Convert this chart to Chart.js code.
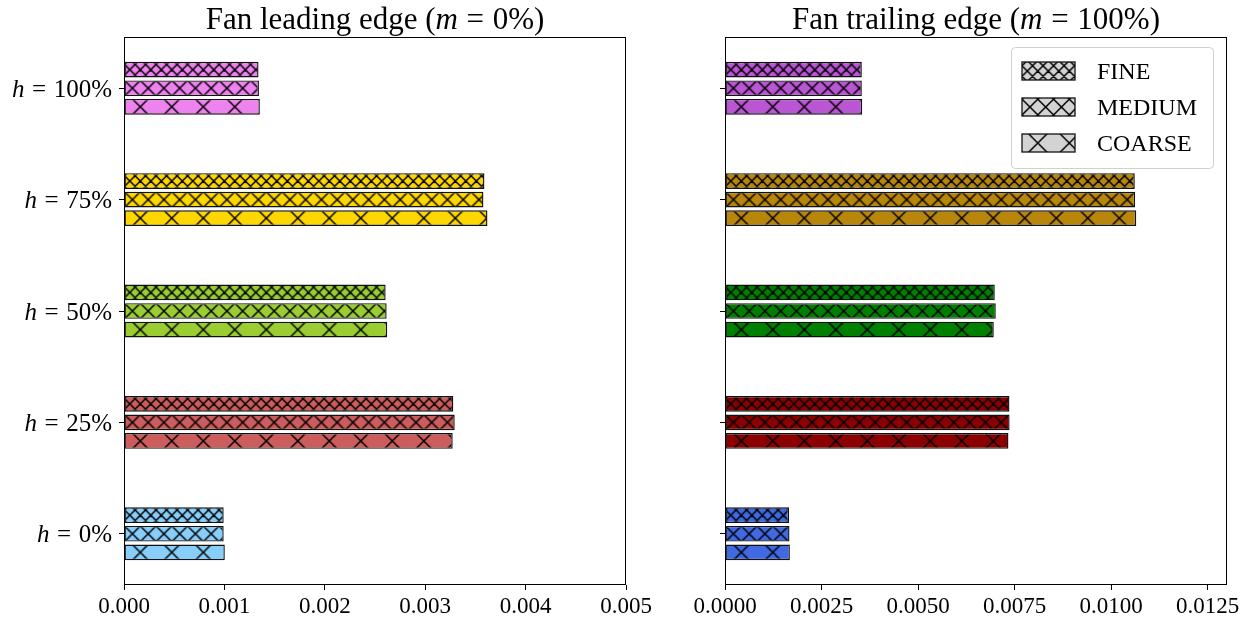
<!DOCTYPE html>
<html>
<head>
<meta charset="utf-8">
<script src="https://cdn.jsdelivr.net/npm/chart.js@4.4.1/dist/chart.umd.min.js"></script>
<style>
  html, body { margin: 0; padding: 0; background: #fff; }
  #wrap { position: relative; width: 1252px; height: 619px; overflow: hidden; }
  canvas { position: absolute; top: 0; }
  #lead { left: 0; }
  #trail { left: 680px; }
</style>
</head>
<body>
<div id="wrap">
  <canvas id="lead" width="680" height="619"></canvas>
  <canvas id="trail" width="572" height="619"></canvas>
</div>
<script>
// Span positions h, listed bottom to top
const spanHeights = [0, 25, 50, 75, 100];
const meshNames = ['FINE', 'MEDIUM', 'COARSE'];

// Fan leading edge (m = 0%)
const leadFine   = [0.000993, 0.003280, 0.002606, 0.003590, 0.001340];
const leadMedium = [0.000993, 0.003294, 0.002616, 0.003580, 0.001344];
const leadCoarse = [0.001004, 0.003274, 0.002622, 0.003620, 0.001353];

// Fan trailing edge (m = 100%)
const trailFine   = [0.001658, 0.007366, 0.006986, 0.010612, 0.003543];
const trailMedium = [0.001670, 0.007370, 0.007012, 0.010620, 0.003543];
const trailCoarse = [0.001680, 0.007340, 0.006960, 0.010650, 0.003553];

// Value-axis ticks
const leadTicks  = [0, 0.001, 0.002, 0.003, 0.004, 0.005];
const trailTicks = [0, 0.0025, 0.005, 0.0075, 0.01, 0.0125];

// Bar colours per span position
const leadColors  = ['#87CEFA', '#CD5C5C', '#9ACD32', '#FFD700', '#EE82EE'];
const trailColors = ['#4169E1', '#8B0000', '#008000', '#B8860B', '#BA55D3'];

// Cross-hatch periods for FINE / MEDIUM / COARSE (tile / repeats)
const HATCH_TILE = 63;
const hatchRepeats = [6, 4, 2];

const SERIF = '"Liberation Serif", "Times New Roman", serif';

function makeHatch(ctx, fill, repeats) {
  const T = HATCH_TILE;
  const c = document.createElement('canvas');
  c.width = T; c.height = T;
  const g = c.getContext('2d');
  g.fillStyle = fill;
  g.fillRect(0, 0, T, T);
  g.strokeStyle = '#000';
  g.lineWidth = 1.5;
  const q = T / repeats;
  g.beginPath();
  for (let k = -repeats - 1; k <= repeats + 1; k++) {
    g.moveTo(k * q, 0); g.lineTo(k * q + T, T);
    g.moveTo(k * q, T); g.lineTo(k * q + T, 0);
  }
  g.stroke();
  return ctx.createPattern(c, 'repeat');
}

// Draws a run of text pieces (some italic) as one line
function drawRuns(ctx, runs, x, y, size, align) {
  const widths = runs.map(r => {
    ctx.font = (r.it ? 'italic ' : '') + size + 'px ' + SERIF;
    return r.gapL * size + ctx.measureText(r.t).width + r.gapR * size;
  });
  const total = widths.reduce((a, b) => a + b, 0);
  let cx = align === 'right' ? x - total : align === 'center' ? x - total / 2 : x;
  ctx.save();
  ctx.fillStyle = '#000';
  ctx.textAlign = 'left';
  ctx.textBaseline = 'alphabetic';
  runs.forEach((r, i) => {
    ctx.font = (r.it ? 'italic ' : '') + size + 'px ' + SERIF;
    ctx.fillText(r.t, cx + r.gapL * size, y);
    cx += widths[i];
  });
  ctx.restore();
}

function run(t, it, gapL, gapR) { return { t, it: !!it, gapL: gapL || 0, gapR: gapR || 0 }; }

function buildChart(canvasId, series, colors, ticks, xMax, decimals, opts) {
  const canvas = document.getElementById(canvasId);
  const ctx = canvas.getContext('2d');
  const datasets = series.map((vals, s) => ({
    label: meshNames[s],
    data: vals.map((v, i) => ({ x: v, y: i })),
    backgroundColor: colors.map(c => makeHatch(ctx, c, hatchRepeats[s])),
    borderColor: '#111',
    borderWidth: 1.4,
    borderSkipped: false,
    categoryPercentage: 0.5,
    barPercentage: 0.845
  }));

  const hatchAlign = {
    id: 'hatchAlign',
    beforeDatasetsDraw(chart) {
      chart.data.datasets.forEach((ds, s) => {
        const q = HATCH_TILE / hatchRepeats[s];
        chart.getDatasetMeta(s).data.forEach(el => {
          const pat = el.options && el.options.backgroundColor;
          if (pat && pat.setTransform) {
            pat.setTransform(new DOMMatrix().translate(el.base + q / 2, el.y));
          }
        });
      });
    }
  };

  const decorations = {
    id: 'decorations',
    afterDraw(chart) {
      const c = chart.ctx;
      const a = chart.chartArea;
      // axes frame
      c.save();
      c.strokeStyle = '#000';
      c.lineWidth = 1;
      c.strokeRect(Math.round(a.left) + 0.5, Math.round(a.top) + 0.5,
                   Math.round(a.right - a.left) - 1, Math.round(a.bottom - a.top) - 1);
      c.restore();
      // title
      drawRuns(c, opts.titleRuns, (a.left + a.right) / 2, 29, 31, 'center');
      // span labels
      if (opts.spanLabels) {
        const ys = chart.scales.y;
        spanHeights.forEach((h, i) => {
          const py = ys.getPixelForValue(i);
          drawRuns(c, [run('h', true), run('=', false, 0.3, 0.3), run(h + '%')],
                   a.left - 12, py + 8.5, 25, 'right');
        });
      }
      // legend
      if (opts.legend) {
        const bw = 202, bh = 121;
        const bx = a.right - 14 - bw, by = a.top + 10;
        c.save();
        c.beginPath();
        c.roundRect(bx + 0.5, by + 0.5, bw, bh, 4);
        c.fillStyle = 'rgba(255,255,255,0.8)';
        c.fill();
        c.strokeStyle = '#d0d0d0';
        c.lineWidth = 1;
        c.stroke();
        meshNames.forEach((name, s) => {
          const cy = by + 24 + s * 36;
          const pat = makeHatch(c, '#d3d3d3', hatchRepeats[s]);
          const q = HATCH_TILE / hatchRepeats[s];
          const px = bx + 11, pw = 53, ph = 18;
          pat.setTransform(new DOMMatrix().translate(px + q / 2, cy));
          c.fillStyle = pat;
          c.fillRect(px, cy - ph / 2, pw, ph);
          c.strokeStyle = '#111';
          c.lineWidth = 1.3;
          c.strokeRect(px, cy - ph / 2, pw, ph);
          c.fillStyle = '#000';
          c.font = '24px ' + SERIF;
          c.textAlign = 'left';
          c.textBaseline = 'alphabetic';
          c.fillText(name, bx + 86, cy + 8);
        });
        c.restore();
      }
    }
  };

  return new Chart(ctx, {
    type: 'bar',
    data: { datasets },
    options: {
      indexAxis: 'y',
      responsive: false,
      animation: false,
      events: [],
      layout: { padding: { top: 37, bottom: 0, left: 0, right: opts.padRight } },
      plugins: { legend: { display: false }, tooltip: { enabled: false }, title: { display: false } },
      scales: {
        x: {
          type: 'linear',
          min: 0,
          max: xMax,
          offset: false,
          border: { display: false },
          grid: { offset: false, drawOnChartArea: false, drawTicks: true, tickLength: 5, color: '#000', lineWidth: 1 },
          afterBuildTicks: sc => { sc.ticks = ticks.map(v => ({ value: v })); },
          afterFit: sc => { sc.height = 34; },
          ticks: {
            color: '#000',
            padding: 3,
            font: { family: SERIF, size: 23 },
            maxRotation: 0,
            autoSkip: false,
            callback: v => Number(v).toFixed(decimals)
          }
        },
        y: {
          type: 'linear',
          min: -0.46,
          max: 4.46,
          offset: false,
          border: { display: false },
          grid: { offset: false, drawOnChartArea: false, drawTicks: true, tickLength: 5, color: '#000', lineWidth: 1 },
          afterBuildTicks: sc => { sc.ticks = spanHeights.map((_, i) => ({ value: i })); },
          afterFit: sc => { sc.width = opts.yWidth; },
          ticks: { display: false }
        }
      }
    },
    plugins: [hatchAlign, decorations]
  });
}

buildChart('lead', [leadFine, leadMedium, leadCoarse], leadColors, leadTicks, 0.005, 3, {
  yWidth: 124, padRight: 54, spanLabels: true, legend: false,
  titleRuns: [run('Fan leading edge ('), run('m', true), run('=', false, 0.28, 0.28), run('0%)')]
});

buildChart('trail', [trailFine, trailMedium, trailCoarse], trailColors, trailTicks, 0.013, 4, {
  yWidth: 45, padRight: 25, spanLabels: false, legend: true,
  titleRuns: [run('Fan trailing edge ('), run('m', true), run('=', false, 0.28, 0.28), run('100%)')]
});
</script>
</body>
</html>
